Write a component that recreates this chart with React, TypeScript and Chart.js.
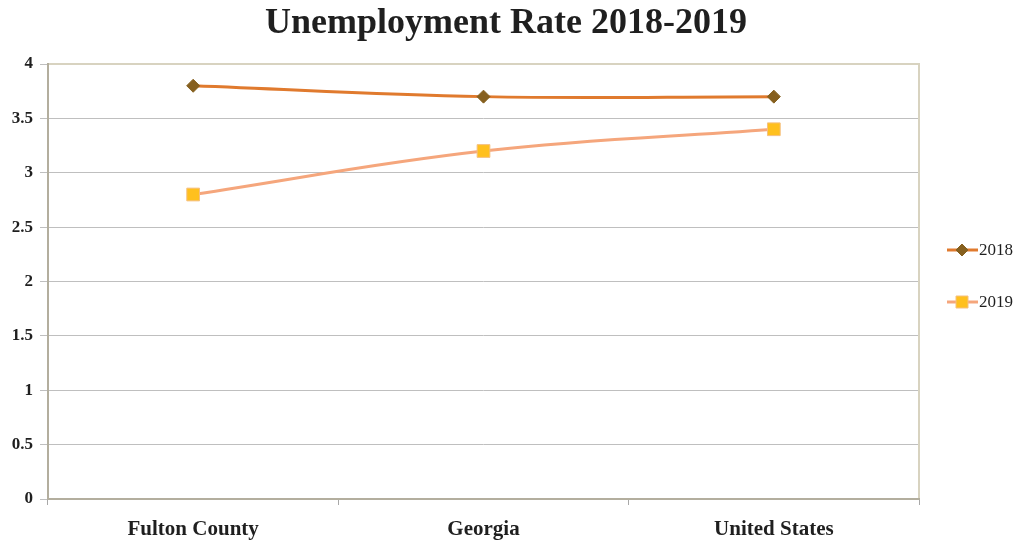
import React, { useEffect, useRef } from "react";
import { Chart, registerables } from "chart.js";

Chart.register(...registerables);

const categories = ["Fulton County", "Georgia", "United States"];
const series2018 = [3.8, 3.7, 3.7];
const series2019 = [2.8, 3.2, 3.4];
const seriesLabels = ["2018", "2019"];
const titleText = "Unemployment Rate 2018-2019";

const FONT = "'Liberation Serif', 'DejaVu Serif', serif";

const drawMarker = (ctx: CanvasRenderingContext2D, style: string, x: number, y: number, r: number, fill: string, stroke: string) => {
  ctx.save();
  ctx.beginPath();
  if (style === "diamond") {
    ctx.moveTo(x, y - r);
    ctx.lineTo(x + r, y);
    ctx.lineTo(x, y + r);
    ctx.lineTo(x - r, y);
    ctx.closePath();
  } else {
    ctx.rect(x - r, y - r, 2 * r, 2 * r);
  }
  ctx.fillStyle = fill;
  ctx.fill();
  ctx.strokeStyle = stroke;
  ctx.lineWidth = 1;
  ctx.stroke();
  ctx.restore();
};

const decorPlugin = {
  id: "decor",
  beforeDatasetsDraw(chart: any) {
    const { ctx, chartArea } = chart;
    const { left, right, top, bottom } = chartArea;
    ctx.save();
    ctx.lineWidth = 2;
    ctx.strokeStyle = "#D8D3C0";
    ctx.beginPath();
    ctx.moveTo(left, top);
    ctx.lineTo(right, top);
    ctx.lineTo(right, bottom);
    ctx.stroke();
    ctx.strokeStyle = "#B3AE9E";
    ctx.beginPath();
    ctx.moveTo(left, top - 1);
    ctx.lineTo(left, bottom);
    ctx.lineTo(right + 1, bottom);
    ctx.stroke();
    ctx.restore();
  },
  afterDraw(chart: any) {
    const { ctx } = chart;
    ctx.save();
    ctx.fillStyle = "#1f1f1f";
    ctx.font = `bold 36px ${FONT}`;
    ctx.textAlign = "center";
    ctx.textBaseline = "middle";
    ctx.fillText(titleText, 506, 24);

    const items = [
      { label: seriesLabels[0], y: 250, line: "#E07A2E", style: "diamond", fill: "#86601F", stroke: "#86601F", r: 6 },
      { label: seriesLabels[1], y: 302, line: "#F5A67C", style: "square", fill: "#FFC01E", stroke: "#F5C080", r: 6 },
    ];
    items.forEach((it) => {
      ctx.strokeStyle = it.line;
      ctx.lineWidth = 3;
      ctx.beginPath();
      ctx.moveTo(947, it.y);
      ctx.lineTo(978, it.y);
      ctx.stroke();
      drawMarker(ctx, it.style, 962, it.y, it.r, it.fill, it.stroke);
      ctx.fillStyle = "#1f1f1f";
      ctx.font = `17px ${FONT}`;
      ctx.textAlign = "left";
      ctx.textBaseline = "middle";
      ctx.fillText(it.label, 979, it.y + 1);
    });
    ctx.restore();
  },
};

export default function App() {
  const ref = useRef<HTMLCanvasElement | null>(null);
  useEffect(() => {
    document.body.style.margin = "0";
    const canvas = ref.current!;
    const chart = new Chart(canvas, {
      type: "line",
      data: {
        labels: categories,
        datasets: [
          {
            label: seriesLabels[0],
            data: series2018,
            borderColor: "#E07A2E",
            borderWidth: 3,
            tension: 0.4,
            pointStyle: "rectRot",
            pointRadius: 6.5,
            pointBackgroundColor: "#86601F",
            pointBorderColor: "#86601F",
            pointBorderWidth: 1,
          },
          {
            label: seriesLabels[1],
            data: series2019,
            borderColor: "#F5A67C",
            borderWidth: 3,
            tension: 0.4,
            pointStyle: "rect",
            pointRadius: 9,
            pointBackgroundColor: "#FFC01E",
            pointBorderColor: "#F5C080",
            pointBorderWidth: 1,
          },
        ],
      },
      options: {
        responsive: false,
        animation: false,
        layout: { padding: { top: 64, right: 95, bottom: 0, left: 0 } },
        plugins: {
          legend: { display: false },
          title: { display: false },
          tooltip: { enabled: false },
        },
        scales: {
          x: {
            offset: true,
            grid: {
              offset: true,
              drawOnChartArea: false,
              drawTicks: true,
              tickLength: 6,
              color: "#A8A8A8",
            },
            border: { display: false },
            ticks: {
              color: "#1f1f1f",
              font: { family: FONT, size: 21, weight: "bold" },
              padding: 12,
              maxRotation: 0,
            },
            afterFit: (s: any) => {
              s.height = 43;
            },
          },
          y: {
            min: 0,
            max: 4,
            grid: {
              color: "#BFBFBF",
              lineWidth: 1,
              drawTicks: true,
              tickLength: 8,
            },
            border: { display: false },
            ticks: {
              stepSize: 0.5,
              color: "#1f1f1f",
              font: { family: FONT, size: 17, weight: "bold" },
              padding: 7,
              callback: (v: any) => String(Number(v)),
            },
            afterFit: (s: any) => {
              s.width = 48;
            },
          },
        },
      },
      plugins: [decorPlugin],
    } as any);
    return () => chart.destroy();
  }, []);
  return (
    <div style={{ width: 1014, height: 542, background: "#fff" }}>
      <canvas ref={ref} width={1014} height={542} />
    </div>
  );
}
